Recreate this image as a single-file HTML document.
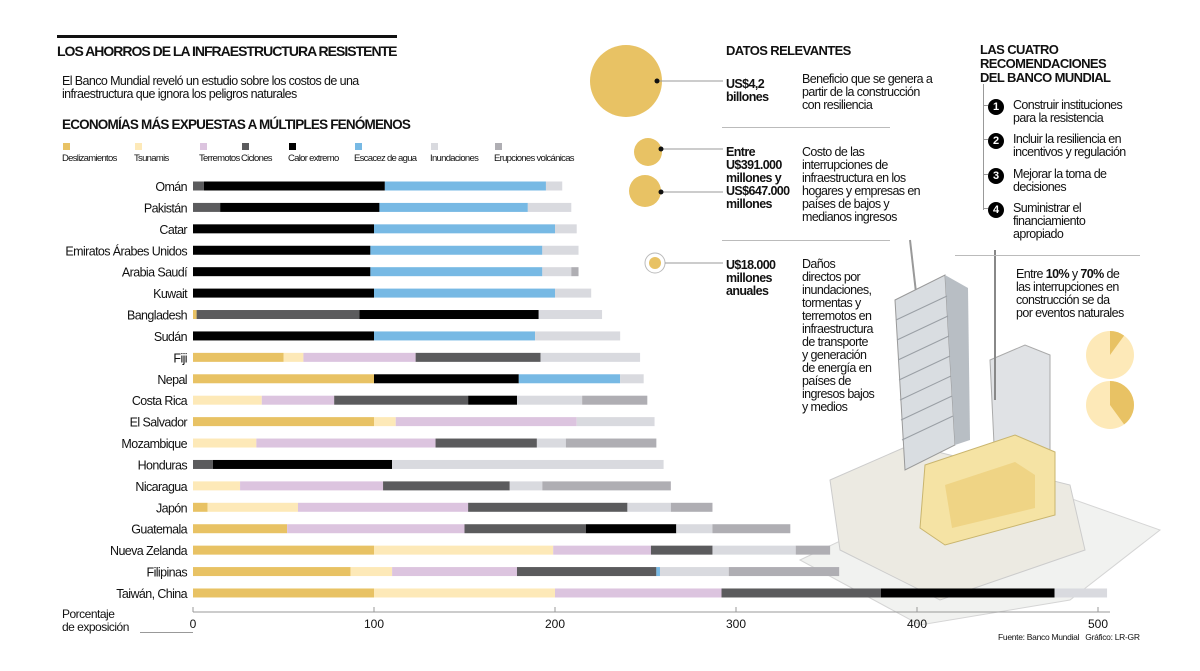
<!DOCTYPE html>
<html><head><meta charset="utf-8"><style>
body{margin:0;background:#fff;width:1200px;height:671px;overflow:hidden;position:relative;font-family:"Liberation Sans",sans-serif;color:#111}
.a{position:absolute;margin:0}
.h{font-weight:bold;font-size:14px;letter-spacing:-0.6px}
.t{font-size:12.5px;line-height:13px;letter-spacing:-0.6px}
.b{font-weight:bold;font-size:12.5px;line-height:13px;letter-spacing:-0.6px}
</style></head><body>
<div class="a" style="left:57px;top:35px;width:340px;height:3px;background:#111"></div>
<div class="a h" style="left:57px;top:43px;font-size:14px;letter-spacing:-1px">LOS AHORROS DE LA INFRAESTRUCTURA RESISTENTE</div>
<div class="a t" style="left:62px;top:75px">El Banco Mundial reveló un estudio sobre los costos de una<br>infraestructura que ignora los peligros naturales</div>
<div class="a h" style="left:62px;top:117px;font-size:13.5px;letter-spacing:-0.8px">ECONOMÍAS MÁS EXPUESTAS A MÚLTIPLES FENÓMENOS</div>
<div id="legend"></div>

<svg class="a" style="left:740px;top:230px" width="440" height="410">
<polygon points="60,330 250,240 420,300 330,370 180,395" fill="#f1f2f0" stroke="#d5d5d5"/>
<polygon points="90,250 170,215 330,255 345,320 200,370 100,320" fill="#eceae2" stroke="#ccc"/>
<line x1="170" y1="10" x2="178" y2="80" stroke="#999" stroke-width="2"/>
<polygon points="155,70 205,45 215,215 165,240" fill="#d9dde1" stroke="#999"/>
<polygon points="205,45 228,58 230,210 215,215" fill="#b8bec4"/>
<g stroke="#9a9fa5" stroke-width="1">
<line x1="156" y1="90" x2="207" y2="66"/><line x1="157" y1="110" x2="208" y2="86"/><line x1="158" y1="130" x2="209" y2="106"/><line x1="159" y1="150" x2="210" y2="126"/><line x1="160" y1="170" x2="211" y2="146"/><line x1="161" y1="190" x2="212" y2="166"/><line x1="162" y1="210" x2="213" y2="186"/></g>
<polygon points="250,130 285,115 310,125 310,220 255,235" fill="#e0e2e5" stroke="#aaa"/>
<line x1="255" y1="20" x2="255" y2="170" stroke="#888" stroke-width="2"/>
<polygon points="185,235 275,205 315,222 315,285 205,315 180,298" fill="#f5e3a4" stroke="#c9b56e"/>
<polygon points="205,255 275,232 295,245 295,278 212,298" fill="#edcd78" opacity=".7"/>
</svg>

<svg id="chart" class="a" style="left:0;top:0" width="1200" height="671"></svg>

<div class="a" style="left:62px;top:608px;font-size:12px;line-height:13px;letter-spacing:-0.5px">Porcentaje<br>de exposición</div>
<div class="a" style="left:140px;top:632px;width:53px;height:1px;background:#999"></div>

<div class="a h" style="left:726px;top:43px;font-size:13px">DATOS RELEVANTES</div>
<svg class="a" style="left:580px;top:40px" width="160" height="250">
<circle cx="46" cy="41" r="36" fill="#e8c264"/>
<circle cx="68" cy="112" r="14" fill="#e8c264"/>
<circle cx="65" cy="151" r="16" fill="#e8c264"/>
<circle cx="75" cy="223" r="10" fill="none" stroke="#bbb"/>
<circle cx="75" cy="223" r="6" fill="#e8c264"/>
<g stroke="#999"><line x1="77" y1="41" x2="143" y2="41"/><line x1="81" y1="109" x2="143" y2="109"/><line x1="81" y1="152" x2="143" y2="152"/><line x1="85" y1="223" x2="143" y2="223"/></g>
<g fill="#111"><circle cx="77" cy="41" r="2.5"/><circle cx="81" cy="109" r="2.5"/><circle cx="81" cy="152" r="2.5"/></g>
</svg>
<div class="a b" style="left:726px;top:78px">US$4,2<br>billones</div>
<div class="a t" style="left:802px;top:73px">Beneficio que se genera a<br>partir de la construcción<br>con resiliencia</div>
<div class="a" style="left:722px;top:127px;width:168px;height:1px;background:#bbb"></div>
<div class="a b" style="left:726px;top:146px">Entre<br>U$391.000<br>millones y<br>US$647.000<br>millones</div>
<div class="a t" style="left:802px;top:146px">Costo de las<br>interrupciones de<br>infraestructura en los<br>hogares y empresas en<br>países de bajos y<br>medianos ingresos</div>
<div class="a" style="left:722px;top:240px;width:168px;height:1px;background:#bbb"></div>
<div class="a b" style="left:726px;top:259px">U$18.000<br>millones<br>anuales</div>
<div class="a t" style="left:802px;top:258px">Daños<br>directos por<br>inundaciones,<br>tormentas y<br>terremotos en<br>infraestructura<br>de transporte<br>y generación<br>de energía en<br>países de<br>ingresos bajos<br>y medios</div>

<div class="a h" style="left:980px;top:43px;font-size:13px;line-height:14px">LAS CUATRO<br>RECOMENDACIONES<br>DEL BANCO MUNDIAL</div>
<div class="a" style="left:983px;top:84px;width:1px;height:126px;background:#999"></div>
<div id="recs"></div>
<div class="a" style="left:955px;top:255px;width:185px;height:1px;background:#bbb"></div>
<div class="a t" style="left:1016px;top:268px">Entre <b>10%</b> y <b>70%</b> de<br>las interrupciones en<br>construcción se da<br>por eventos naturales</div>
<svg id="pies" class="a" style="left:1080px;top:325px" width="60" height="110"></svg>

<div class="a" style="left:998px;top:632px;font-size:8.5px;letter-spacing:-0.3px">Fuente: Banco Mundial&nbsp;&nbsp;&nbsp;Gráfico: LR-GR</div>

<script>
const categories=["Omán","Pakistán","Catar","Emiratos Árabes Unidos","Arabia Saudí","Kuwait","Bangladesh","Sudán","Fiji","Nepal","Costa Rica","El Salvador","Mozambique","Honduras","Nicaragua","Japón","Guatemala","Nueva Zelanda","Filipinas","Taiwán, China"];
const seriesNames=["Deslizamientos","Tsunamis","Terremotos","Ciclones","Calor extremo","Escacez de agua","Inundaciones","Erupciones volcánicas"];
const deslizamientos=[0,0,0,0,0,0,2,0,50,100,0,100,0,0,0,8,52,100,87,100];
const tsunamis=[0,0,0,0,0,0,0,0,11,0,38,12,35,0,26,50,0,99,23,100];
const terremotos=[0,0,0,0,0,0,0,0,62,0,40,100,99,0,79,94,98,54,69,92];
const ciclones=[6,15,0,0,0,0,90,0,69,0,74,0,56,11,70,88,67,34,77,88];
const calor=[100,88,100,98,98,100,99,100,0,80,27,0,0,99,0,0,50,0,0,96];
const agua=[89,82,100,95,95,100,0,89,0,56,0,0,0,0,0,0,0,0,2,0];
const inundaciones=[9,24,12,20,16,20,35,47,55,13,36,43,16,150,18,24,20,46,38,29];
const volcanes=[0,0,0,0,4,0,0,0,0,0,36,0,50,0,71,23,43,19,61,0];
const ticks=[0,100,200,300,400,500];
const colors=["#e8c264","#fde9b8","#dcc4df","#5b5b5d","#000000","#77b9e4","#d9dadf","#afaeb3"];
const series=[deslizamientos,tsunamis,terremotos,ciclones,calor,agua,inundaciones,volcanes];
const NS="http://www.w3.org/2000/svg";
const x0=193,pxPer=1.81;
const xs=v=>x0+v*pxPer;
const ys=i=>186+i*21.42;
const svg=document.getElementById('chart');
function mk(t,a){const e=document.createElementNS(NS,t);for(const k in a)e.setAttribute(k,a[k]);return e;}
categories.forEach((c,i)=>{
  const lab=mk('text',{x:187,y:ys(i)+5,'text-anchor':'end','font-size':12.5,'letter-spacing':'-0.6','font-family':'"Liberation Sans",sans-serif',fill:'#111'});
  lab.textContent=c;
  
  
  svg.appendChild(lab);
  let acc=0;
  series.forEach((s,k)=>{
    const v=s[i];if(!v)return;
    const r=mk('rect',{x:xs(acc),y:ys(i)-4.5,width:v*pxPer,height:9,fill:colors[k]});
    
    
    svg.appendChild(r);acc+=v;
  });
});
const ax=mk('line',{x1:x0,x2:1110,y1:612,y2:612,stroke:'#999'});


svg.appendChild(ax);
ticks.forEach(t=>{
  const tl=mk('line',{x1:xs(t),x2:xs(t),y1:607,y2:612,stroke:'#999'});
  
  
  svg.appendChild(tl);
  const tx=mk('text',{x:xs(t),y:628,'text-anchor':'middle','font-size':12,'font-family':'"Liberation Sans",sans-serif',fill:'#111'});
  tx.textContent=t;
  
  
  svg.appendChild(tx);
});
const legX=[62,134,199,241,288,354,430,494];
const lg=document.getElementById('legend');
seriesNames.forEach((n,k)=>{
  const d=document.createElement('div');
  d.className='a';d.style.left=legX[k]+'px';d.style.top='143px';d.style.fontSize='9.5px';d.style.letterSpacing='-0.7px';d.style.whiteSpace='nowrap';
  d.innerHTML='<div style="width:7px;height:7px;background:'+colors[k]+';margin:0 0 3px 1px"></div>'+n;
  
  
  lg.appendChild(d);
});
const recs=["Construir instituciones<br>para la resistencia","Incluir la resiliencia en<br>incentivos y regulación","Mejorar la toma de<br>decisiones","Suministrar el<br>financiamiento<br>apropiado"];
const recY=[97,131,166,200];
const rc=document.getElementById('recs');
recs.forEach((r,i)=>{
  const d=document.createElement('div');d.className='a';d.style.left='983px';d.style.top=(recY[i]+2)+'px';
  d.innerHTML='<div style="position:absolute;left:0;top:6px;width:5px;height:1px;background:#999"></div><div style="position:absolute;left:5px;top:0;width:16px;height:16px;border-radius:50%;background:#000;color:#fff;font-weight:bold;font-size:11px;text-align:center;line-height:16px">'+(i+1)+'</div><div class="t" style="position:absolute;left:30px;top:0;white-space:nowrap">'+r+'</div>';
  
  
  rc.appendChild(d);
});
const pieShares=[10,40];
const pies=document.getElementById('pies');
pieShares.forEach((p,i)=>{
  const cx=30,cy=30+i*50,r=24;
  const c=mk('circle',{cx:cx,cy:cy,r:r,fill:'#fde9b8'});
  
  
  pies.appendChild(c);
  const a=p/100*2*Math.PI;
  const x=cx+r*Math.sin(a),y=cy-r*Math.cos(a);
  const s=mk('path',{d:`M${cx},${cy}L${cx},${cy-r}A${r},${r} 0 ${p>50?1:0} 1 ${x},${y}Z`,fill:'#e8c264'});
  
  
  pies.appendChild(s);
});
</script>
</body></html>
